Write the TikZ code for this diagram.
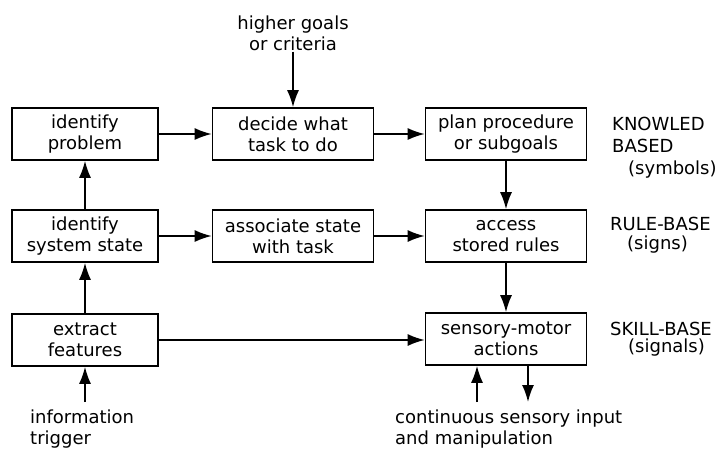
\documentclass[tikz,border=0pt]{standalone}
\usepackage{fontspec}
\setmainfont{DejaVu Sans}
\usetikzlibrary{arrows.meta}

\begin{document}
\begin{tikzpicture}[x=1pt,y=-1pt,
  box/.style={draw, line width=1.6pt, minimum height=52pt, align=center,
    inner sep=2pt, font=\fontsize{18}{21}\selectfont},
  lbl/.style={align=left, inner sep=1pt, font=\fontsize{18}{21}\selectfont},
  level/.style={anchor=base west, inner sep=0pt, font=\fontsize{18}{21}\selectfont},
  arr/.style={line width=1.7pt, -{Latex[length=17pt,width=12pt]}}]

\useasboundingbox (0,0) rectangle (721,455);

% knowledge-based level
\node[box, minimum width=146pt] (prob)   at (85,134)  {identify\\problem};
\node[box, minimum width=161pt] (decide) at (293,134) {decide what\\task to do};
\node[box, minimum width=161pt] (plan)   at (506,134) {plan procedure\\or subgoals};

% rule-based level
\node[box, minimum width=146pt] (sys)    at (85,236)  {identify\\system state};
\node[box, minimum width=161pt] (assoc)  at (293,236) {associate state\\with task};
\node[box, minimum width=161pt] (rules)  at (506,236) {access\\stored rules};

% skill-based level
\node[box, minimum width=146pt] (feat)   at (85,340)  {extract\\features};
\node[box, minimum width=161pt] (motor)  at (506,339) {sensory-motor\\actions};

% inputs and outputs
\node[lbl, align=center] (goals) at (293,33) {higher goals\\or criteria};
\node[lbl, anchor=north west] (trig) at (29,409) {information\\trigger};
\node[lbl, anchor=north west] (sensin) at (394,409) {continuous sensory input\\and manipulation};

% level names on the right (cut at the edge as printed)
\node[level] (kb1) at (612,130) {KNOWLED};
\node[level] (kb2) at (612,152) {BASED};
\node[level] (kb3) at (628,174) {(symbols)};
\node[level] (rb1) at (610,230) {RULE-BASE};
\node[level] (rb2) at (627,249) {(signs)};
\node[level] (sb1) at (610,335) {SKILL-BASE};
\node[level] (sb2) at (628,352) {(signals)};

% connectors
\draw[arr] (goals) -- (decide);
\draw[arr] (prob) -- (decide);
\draw[arr] (decide) -- (plan);
\draw[arr] (plan) -- (rules);
\draw[arr] (sys) -- (prob);
\draw[arr] (sys) -- (assoc);
\draw[arr] (assoc) -- (rules);
\draw[arr] (rules) -- (motor);
\draw[arr] (feat) -- (sys);
\draw[arr] (feat.east) -- (feat.east -| motor.west);

\coordinate (trigin) at (85,402);
\draw[arr] (trigin) -- (feat);
\coordinate (sensup) at (477,402);
\draw[arr] (sensup) -- (sensup |- motor.south);
\coordinate (manip) at (528,402);
\draw[arr] (manip |- motor.south) -- (manip);

\end{tikzpicture}
\end{document}
